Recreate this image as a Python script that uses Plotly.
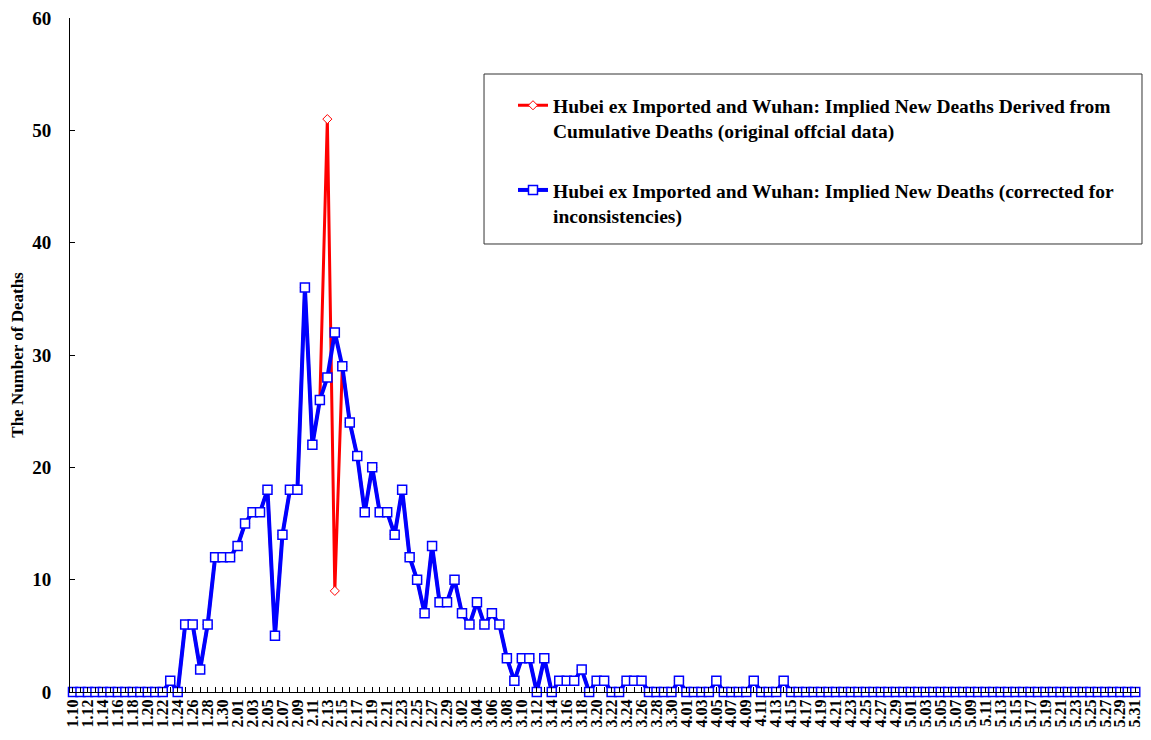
"""Hubei ex Imported and Wuhan: implied new deaths, 2020-01-10 .. 2020-05-31"""
import pandas as pd
import plotly.graph_objects as go

# daily dates 1.10 .. 5.31 (2020)
dates = [d.strftime("%-m.%d") for d in pd.date_range("2020-01-10", "2020-05-31")]

jan = [0] * 13 + [1, 0, 6, 6, 2, 6, 12, 12, 12]
feb = [13, 15, 16, 16, 18, 5, 14, 18, 18, 36, 22, 26, 28, 32, 29, 24, 21, 16, 20, 16,
       16, 14, 18, 12, 10, 7, 13, 8, 8]
mar = [10, 7, 6, 8, 6, 7, 6, 3, 1, 3, 3, 0, 3, 0, 1, 1, 1, 2, 0, 1,
       1, 0, 0, 1, 1, 1, 0, 0, 0, 0, 1]
apr = [0, 0, 0, 0, 1, 0, 0, 0, 0, 1, 0, 0, 0, 1, 0, 0, 0, 0, 0, 0,
       0, 0, 0, 0, 0, 0, 0, 0, 0, 0]
may = [0] * 31

corrected = jan + feb + mar + apr + may

# original official data differs only on 2.13 and 2.14
original = list(corrected)
original[dates.index("2.13")] = 51
original[dates.index("2.14")] = 9

tick_text = [d if i % 2 == 0 else "" for i, d in enumerate(dates)]

SERIF = "Liberation Serif"

fig = go.Figure()
fig.add_trace(go.Scatter(
    x=dates, y=original, mode="lines+markers",
    name="Hubei ex Imported and Wuhan: Implied New Deaths Derived from<br>Cumulative Deaths (original offcial data)",
    line=dict(color="#FF0000", width=3),
    marker=dict(symbol="diamond", size=7, color="white",
                line=dict(color="#FF0000", width=1)),
    cliponaxis=False, legendgroup="a",
))
fig.add_trace(go.Scatter(
    x=dates, y=corrected, mode="lines+markers",
    name="Hubei ex Imported and Wuhan: Implied New Deaths (corrected for<br>inconsistencies)",
    line=dict(color="#0000FF", width=4),
    marker=dict(symbol="square", size=9, color="white",
                line=dict(color="#0000FF", width=1.5)),
    cliponaxis=False, legendgroup="b",
))

# legend frame
fig.add_shape(type="rect", xref="paper", yref="paper",
              x0=0.3873, x1=1.0028, y0=0.6647, y1=0.9169,
              line=dict(color="#333333", width=1), fillcolor="white", layer="below")

# the page body adds 8px around the figure; keep the figure inside the visible page
fig.update_layout(
    width=1135, height=722,
    margin=dict(l=62, r=4, t=10, b=38),
    paper_bgcolor="white", plot_bgcolor="white",
    font=dict(family=SERIF, size=16, color="black", weight="bold"),
    showlegend=True,
    legend=dict(
        x=0.4144, y=0.899, xanchor="left", yanchor="top",
        bgcolor="rgba(0,0,0,0)", borderwidth=0,
        font=dict(family=SERIF, size=19.5, color="black", weight="bold"),
        traceorder="grouped", tracegroupgap=31, valign="top",
    ),
    xaxis=dict(
        type="category", range=[-0.4, 142.5],
        tickmode="array", tickvals=dates, ticktext=tick_text,
        tickangle=-90, ticks="inside", ticklen=5, tickcolor="black",
        tickfont=dict(family=SERIF, size=16, weight="bold"),
        ticklabeloverflow="allow",
        showline=True, linecolor="black", linewidth=1,
        showgrid=False, zeroline=False, automargin=False,
    ),
    yaxis=dict(
        range=[0, 60], dtick=10,
        ticks="inside", ticklen=5, tickcolor="black",
        tickfont=dict(family=SERIF, size=19, weight="bold"),
        ticklabelstandoff=14, ticklabeloverflow="allow",
        showline=True, linecolor="black", linewidth=1,
        showgrid=False, zeroline=False, automargin=False,
        title=dict(text="The Number of Deaths", standoff=10,
                   font=dict(family=SERIF, size=17, weight="bold")),
    ),
)

fig.write_html("out.html")
